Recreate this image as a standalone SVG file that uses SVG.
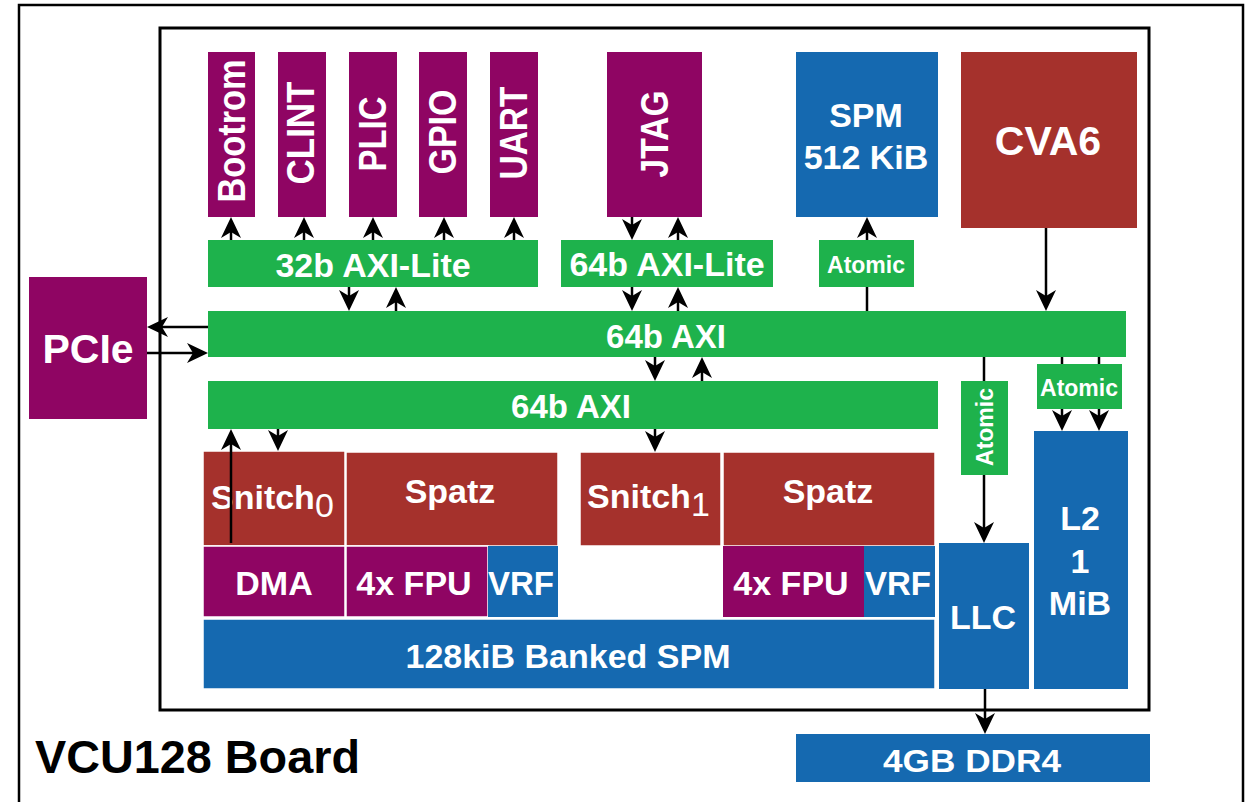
<svg xmlns="http://www.w3.org/2000/svg" width="1247" height="802" viewBox="0 0 1247 802">
<style>
.pu{fill:#8F0563}
.bl{fill:#1569B0}
.rd{fill:#A5312C}
.gr{fill:#1EB24C}
.bx{stroke:#ffffff;stroke-width:1.5}
.t{fill:#ffffff;font-family:"Liberation Sans",Arial,sans-serif;font-weight:bold;text-anchor:middle}
.c{stroke:#000;stroke-width:2.5;fill:none}
.a{marker-end:url(#ah)}
</style>
<defs>
<marker id="ah" viewBox="-7 -11 23 22" refX="0" refY="0" markerWidth="23" markerHeight="22" markerUnits="userSpaceOnUse" orient="auto">
<path d="M15,0 L-6,-10 L0,0 L-6,10 Z" fill="#000"/>
</marker>
</defs>
<rect x="0" y="0" width="1247" height="802" fill="#fff"/>
<g id="board">
<rect x="19" y="5" width="1224" height="810" fill="none" stroke="#000" stroke-width="2.5"/>
<text x="35" y="773" font-family="Liberation Sans,Arial,sans-serif" font-weight="bold" font-size="46" fill="#000" textLength="325" lengthAdjust="spacingAndGlyphs">VCU128 Board</text>
</g>
<g id="chip">
<rect x="160" y="28" width="989" height="682" fill="none" stroke="#000" stroke-width="3"/>
</g>
<g id="bootrom"><rect class="pu" x="208" y="52" width="47" height="165"/><text class="t" font-size="38" transform="translate(232,131) rotate(-90)" y="13" textLength="143" lengthAdjust="spacingAndGlyphs">Bootrom</text></g>
<g id="clint"><rect class="pu" x="278" y="52" width="48" height="165"/><text class="t" font-size="38" transform="translate(301,133) rotate(-90)" y="13" textLength="103" lengthAdjust="spacingAndGlyphs">CLINT</text></g>
<g id="plic"><rect class="pu" x="349" y="52" width="48" height="165"/><text class="t" font-size="38" transform="translate(373,134) rotate(-90)" y="13" textLength="75" lengthAdjust="spacingAndGlyphs">PLIC</text></g>
<g id="gpio"><rect class="pu" x="419" y="52" width="48" height="165"/><text class="t" font-size="38" transform="translate(443,132) rotate(-90)" y="13" textLength="85" lengthAdjust="spacingAndGlyphs">GPIO</text></g>
<g id="uart"><rect class="pu" x="490" y="52" width="48" height="165"/><text class="t" font-size="38" transform="translate(514,133) rotate(-90)" y="13" textLength="93" lengthAdjust="spacingAndGlyphs">UART</text></g>
<g id="jtag"><rect class="pu" x="607" y="52" width="95" height="165"/><text class="t" font-size="38" transform="translate(655,134) rotate(-90)" y="13" textLength="87" lengthAdjust="spacingAndGlyphs">JTAG</text></g>
<g id="spm512"><rect class="bl" x="796" y="52" width="142" height="165"/><text class="t" font-size="34" x="866" y="127">SPM</text><text class="t" font-size="34" x="866" y="169">512 KiB</text></g>
<g id="cva6"><rect class="rd" x="961" y="52" width="176" height="176"/><text class="t" font-size="41" x="1048" y="155">CVA6</text></g>
<g id="axilite32"><rect class="gr" x="208" y="240" width="330" height="47"/><text class="t" font-size="34" x="373" y="277">32b AXI-Lite</text></g>
<g id="axilite64"><rect class="gr" x="561" y="240" width="212" height="47"/><text class="t" font-size="34" x="667" y="276">64b AXI-Lite</text></g>
<g id="atomic1"><rect class="gr" x="819" y="240" width="95" height="47"/><text class="t" font-size="23" x="866" y="273">Atomic</text></g>
<g id="axi64a"><rect class="gr" x="208" y="311" width="918" height="46"/><text class="t" font-size="33" x="666" y="348">64b AXI</text></g>
<g id="axi64b"><rect class="gr" x="208" y="381" width="730" height="48"/><text class="t" font-size="33" x="571" y="418">64b AXI</text></g>
<g id="pcie"><rect class="pu" x="29" y="277" width="118" height="142"/><text class="t" font-size="41" x="88" y="363">PCIe</text></g>
<g id="snitch0"><rect class="rd bx" x="203" y="451" width="142" height="95"/><text class="t" font-size="34" x="211" y="509" style="text-anchor:start">Snitch<tspan font-weight="normal" dy="8">0</tspan></text></g>
<g id="spatz0"><rect class="rd bx" x="346" y="452" width="212" height="94"/><text class="t" font-size="34" x="450" y="503">Spatz</text></g>
<g id="dma"><rect class="pu bx" x="203" y="546" width="142" height="71"/><text class="t" font-size="34" x="274" y="595">DMA</text></g>
<g id="fpu0"><rect class="pu bx" x="346" y="546" width="142" height="71"/><text class="t" font-size="34" x="414" y="595">4x FPU</text></g>
<g id="vrf0"><rect class="bl" x="488" y="546" width="70" height="71"/><text class="t" font-size="33" x="521" y="595">VRF</text></g>
<g id="snitch1"><rect class="rd bx" x="580" y="452" width="141" height="94"/><text class="t" font-size="34" x="587" y="508" style="text-anchor:start">Snitch<tspan font-weight="normal" dy="8">1</tspan></text></g>
<g id="spatz1"><rect class="rd bx" x="723" y="452" width="212" height="94"/><text class="t" font-size="34" x="828" y="503">Spatz</text></g>
<g id="fpu1"><rect class="pu" x="723" y="546" width="141" height="71"/><text class="t" font-size="34" x="791" y="595">4x FPU</text></g>
<g id="vrf1"><rect class="bl" x="864" y="546" width="71" height="71"/><text class="t" font-size="33" x="898" y="595">VRF</text></g>
<g id="bankedspm"><rect class="bl bx" x="203" y="619" width="732" height="70"/><text class="t" font-size="34" x="568" y="668">128kiB Banked SPM</text></g>
<g id="atomic2"><rect class="gr" x="961" y="381" width="47" height="94"/><text class="t" font-size="23" transform="translate(985,427) rotate(-90)" y="8">Atomic</text></g>
<g id="atomic3"><rect class="gr" x="1037" y="364" width="85" height="45"/><text class="t" font-size="23" x="1079" y="396">Atomic</text></g>
<g id="llc"><rect class="bl" x="939" y="543" width="90" height="146"/><text class="t" font-size="34" x="983" y="629">LLC</text></g>
<g id="l2"><rect class="bl" x="1034" y="431" width="94" height="258"/><text class="t" font-size="34" x="1080" y="530">L2</text><text class="t" font-size="34" x="1080" y="573">1</text><text class="t" font-size="34" x="1080" y="615">MiB</text></g>
<g id="ddr4"><rect class="bl" x="796" y="734" width="354" height="48"/><text class="t" font-size="32" x="972" y="772" textLength="178" lengthAdjust="spacingAndGlyphs">4GB DDR4</text></g>
<g id="connectors">
<path class="c a" d="M231 240 V232"/>
<path class="c a" d="M304 240 V232"/>
<path class="c a" d="M373 240 V232"/>
<path class="c a" d="M444 240 V232"/>
<path class="c a" d="M514 240 V232"/>
<path class="c a" d="M632 217 V225"/>
<path class="c a" d="M678 240 V232"/>
<path class="c a" d="M349 287 V296"/>
<path class="c a" d="M396 311 V302"/>
<path class="c a" d="M632 287 V296"/>
<path class="c a" d="M678 311 V302"/>
<path class="c" d="M867 311 V287"/>
<path class="c a" d="M867 240 V232"/>
<path class="c a" d="M1046 228 V296"/>
<path class="c a" d="M655 357 V366"/>
<path class="c a" d="M702 381 V372"/>
<path class="c a" d="M655 429 V437"/>
<path class="c a" d="M231 543 V444"/>
<path class="c a" d="M278 429 V436"/>
<path class="c" d="M984 357 V381"/>
<path class="c a" d="M984 475 V528"/>
<path class="c" d="M1062 357 V364"/>
<path class="c" d="M1099 357 V364"/>
<path class="c a" d="M1062 409 V416"/>
<path class="c a" d="M1099 409 V416"/>
<path class="c a" d="M985 689 V719"/>
<path class="c a" d="M208 327 H162"/>
<path class="c a" d="M147 353 H193"/>
</g>
</svg>
